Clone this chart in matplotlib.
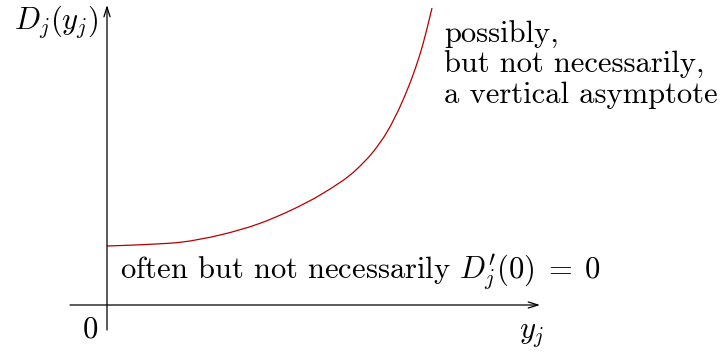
import matplotlib
matplotlib.use('Agg')
import matplotlib.pyplot as plt
from matplotlib.path import Path
from matplotlib.patches import PathPatch
import numpy as np

plt.rcParams['mathtext.fontset'] = 'cm'
plt.rcParams['font.family'] = 'cmr10'
plt.rcParams['axes.unicode_minus'] = False

# cost curve D_j(y_j), read point by point
curve_y = [0.00, 0.43, 0.73, 1.13, 1.53, 1.83, 2.16, 2.50, 2.66, 2.80, 2.96, 3.06, 3.16, 3.25]
curve_d = [0.59, 0.607, 0.627, 0.70, 0.817, 0.943, 1.117, 1.36, 1.53, 1.73, 2.05, 2.30, 2.61, 2.97]

# axis extents
x_axis = [-0.37, 4.33]
y_axis = [-0.25, 3.00]

ylabel = r'$D_j(y_j)$'
xlabel = r'$y_j$'
note_top = 'possibly,\nbut not necessarily,\na vertical asymptote'
note_bottom = r"often but not necessarily $D^{\prime}_j(0)\;=\;0$"

fig = plt.figure(figsize=(7.24, 3.52), dpi=100)
ax = fig.add_axes([0, 0, 1, 1])
ax.set_xlim(-1.07, 6.17)
ax.set_ylim(-0.47, 3.05)
ax.axis('off')

# axes with open arrow heads
arrow = dict(arrowstyle='->,head_length=0.7,head_width=0.22', lw=0.9, color='black',
             shrinkA=0, shrinkB=0)
ax.annotate('', xy=(x_axis[1], 0), xytext=(x_axis[0], 0), arrowprops=arrow)
ax.annotate('', xy=(0, y_axis[1]), xytext=(0, y_axis[0]), arrowprops=arrow)

# smooth curve through the points: cubic Hermite segments as Bezier curves
x = np.asarray(curve_y)
y = np.asarray(curve_d)
h = np.diff(x)
s = np.diff(y) / h
m = np.empty_like(x)
m[0] = s[0]
m[-1] = s[-1]
m[1:-1] = (h[1:] * s[:-1] + h[:-1] * s[1:]) / (h[:-1] + h[1:])
verts = [(x[0], y[0])]
codes = [Path.MOVETO]
for i in range(len(x) - 1):
    d = h[i] / 3
    verts += [(x[i] + d, y[i] + d * m[i]),
              (x[i + 1] - d, y[i + 1] - d * m[i + 1]),
              (x[i + 1], y[i + 1])]
    codes += [Path.CURVE4] * 3
ax.add_patch(PathPatch(Path(verts, codes), fill=False, edgecolor='#b40000', lw=0.9))

fs = 22
ax.text(-0.09, 2.83, ylabel, fontsize=fs, ha='right', va='center')
ax.text(4.25, -0.30, xlabel, fontsize=fs, ha='center', va='center')
ax.text(-0.17, -0.25, '0', fontsize=fs, ha='center', va='center')
ax.text(3.37, 2.40, note_top, fontsize=fs, ha='left', va='center', linespacing=1.1)
ax.text(0.13, 0.33, note_bottom, fontsize=fs, ha='left', va='center')

fig.savefig('out.png', dpi=100)
